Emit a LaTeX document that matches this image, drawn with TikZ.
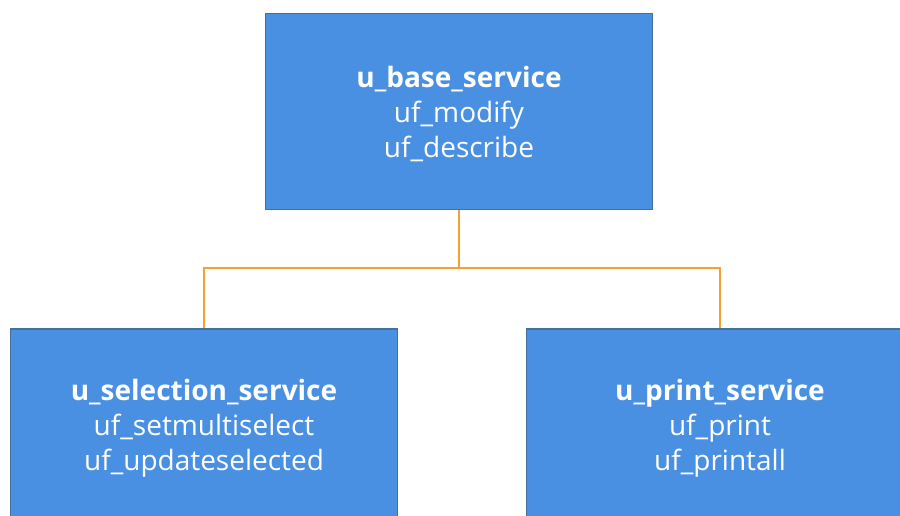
\documentclass[tikz,border=0pt]{standalone}
\usepackage{fontspec}
\setmainfont{Open Sans}
\usetikzlibrary{positioning, calc}
\definecolor{boxBlue}{HTML}{4A90E2}
\definecolor{boxEdge}{HTML}{41719C}
\definecolor{linkOrange}{HTML}{F5A033}

\begin{document}
\begin{tikzpicture}[x=1pt, y=-1pt,
    service/.style={draw=boxEdge, line width=1.2pt, fill=boxBlue, text=white,
        minimum width=387pt, minimum height=196pt, align=center,
        font=\fontsize{28}{35}\selectfont, inner sep=0pt, text depth=0pt},
    link/.style={draw=linkOrange, line width=1.6pt}]
    \useasboundingbox (0,0) rectangle (900,515);

    % parent service
    \node[service] (base) at (459,111.5)
        {\textbf{u\_base\_service}\\uf\_modify\\uf\_describe};

    % child services
    \node[service, minimum height=192pt] (sel) at (204,425)
        {\textbf{u\_selection\_service}\\uf\_setmultiselect\\uf\_updateselected};
    \node[service, minimum height=192pt] (prn) at (720,425)
        {\textbf{u\_print\_service}\\uf\_print\\uf\_printall};

    % tree links
    \coordinate (split) at ($(base.south)+(0,58)$);
    \draw[link] (base.south) -- (split) -| (sel.north);
    \draw[link] (split) -| (prn.north);
\end{tikzpicture}
\end{document}
